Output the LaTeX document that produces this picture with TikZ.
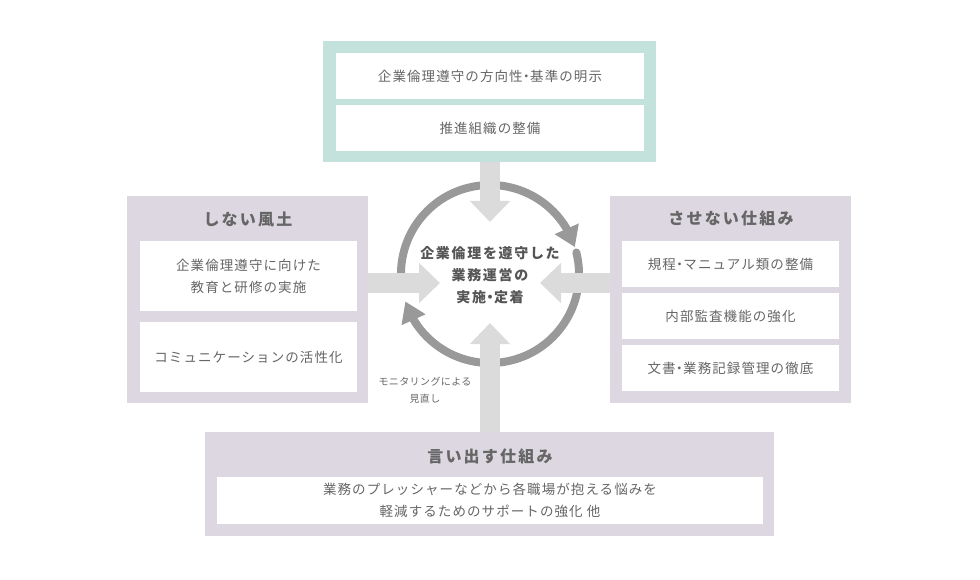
\documentclass[tikz,border=0pt]{standalone}
\usepackage{fontspec}
\setmainfont{Noto Sans CJK JP}
\newfontfamily\jpbody[LetterSpace=8]{Noto Sans CJK JP}
\newfontfamily\jptitle[LetterSpace=14]{Noto Sans CJK JP}
\newfontfamily\jpcenter[LetterSpace=12]{Noto Sans CJK JP}
\newfontfamily\jpsmall[LetterSpace=4]{Noto Sans CJK JP}
\newcommand\nakaguro{\kern-3pt・\kern-3pt}
\usetikzlibrary{arrows.meta,bending}
\definecolor{cteal}{HTML}{C4E2DC}
\definecolor{clav}{HTML}{DCD7E0}
\definecolor{carrow}{HTML}{DADBDA}
\definecolor{ccirc}{HTML}{999999}
\definecolor{ctext}{HTML}{666666}
\definecolor{cdark}{HTML}{555555}
\begin{document}
\begin{tikzpicture}[x=1pt,y=-1pt,
  panel/.style={draw=none, inner sep=0pt, outer sep=0pt, anchor=north west},
  tealpanel/.style={panel, fill=cteal},
  lavpanel/.style={panel, fill=clav},
  itembox/.style={panel, fill=white, text=ctext, align=center, font=\fontsize{13.5}{22}\jpbody},
  titletext/.style={text=ctext, inner sep=0pt, font=\fontsize{16}{20}\jptitle\bfseries},
  centertext/.style={text=cdark, inner sep=0pt, align=center, font=\fontsize{14}{22}\jpcenter\bfseries},
  smalltext/.style={text=ctext, inner sep=0pt, align=center, font=\fontsize{10}{17}\jpsmall},
  bigarrow/.style={draw=carrow, line width=20pt, -{Triangle[width=39pt,length=21pt]}},
  circarrow/.style={draw=ccirc, line width=8pt, line cap=round, -{Triangle[width=25pt,length=20pt]}}
]
\useasboundingbox (0,0) rectangle (980,580);

% top panel
\node[tealpanel, minimum width=333pt, minimum height=121pt] (top) at (323,41) {};
\node[itembox, minimum width=308pt, minimum height=46pt] (t1) at (336,53) {企業倫理遵守の方向性\nakaguro 基準の明示};
\node[itembox, minimum width=308pt, minimum height=46pt] (t2) at (336,105) {推進組織の整備};

% left panel
\node[lavpanel, minimum width=241pt, minimum height=207pt] (left) at (127,196) {};
\node[titletext] (lefttitle) at (248,219) {しない風土};
\node[itembox, minimum width=217pt, minimum height=70pt] (l1) at (140,241) {企業倫理遵守に向けた\\教育と研修の実施};
\node[itembox, minimum width=217pt, minimum height=70pt] (l2) at (140,322) {コミュニケーションの活性化};

% right panel
\node[lavpanel, minimum width=241pt, minimum height=207pt] (right) at (610,196) {};
\node[titletext] (righttitle) at (731,218) {させない仕組み};
\node[itembox, minimum width=217pt, minimum height=46pt] (r1) at (622,241) {規程\nakaguro マニュアル類の整備};
\node[itembox, minimum width=217pt, minimum height=46pt] (r2) at (622,293) {内部監査機能の強化};
\node[itembox, minimum width=217pt, minimum height=46pt] (r3) at (622,345) {文書\nakaguro 業務記録管理の徹底};

% bottom panel
\node[lavpanel, minimum width=569pt, minimum height=104pt] (bottom) at (205,432) {};
\node[titletext] (bottomtitle) at (490,456) {言い出す仕組み};
\node[itembox, minimum width=546pt, minimum height=47pt] (b1) at (217,477) {業務のプレッシャーなどから各職場が抱える悩みを\\軽減するためのサポートの強化 他};

% cycle arcs
\coordinate (c) at (490,274);
\begin{scope}[shift={(c)}, yscale=-1]
  \draw[circarrow] (188:89) arc[start angle=188, end angle=17.6, radius=89];
  \draw[circarrow] (14:89) arc[start angle=14, end angle=-162, radius=89];
\end{scope}

% big arrows
\coordinate (ttip) at (490,222);
\coordinate (btip) at (490,323);
\coordinate (ltip) at (440,283);
\coordinate (rtip) at (540,283);
\draw[bigarrow] (top.south -| ttip) -- (ttip);
\draw[bigarrow] (bottom.north -| btip) -- (btip);
\draw[bigarrow] (ltip -| left.east) -- (ltip);
\draw[bigarrow] (rtip -| right.west) -- (rtip);

% center text
\node[centertext] (core) at (490,275) {企業倫理を遵守した\\業務運営の\\実施\nakaguro 定着};
\node[smalltext] (mon) at (425,390) {モニタリングによる\\見直し};
\end{tikzpicture}
\end{document}
